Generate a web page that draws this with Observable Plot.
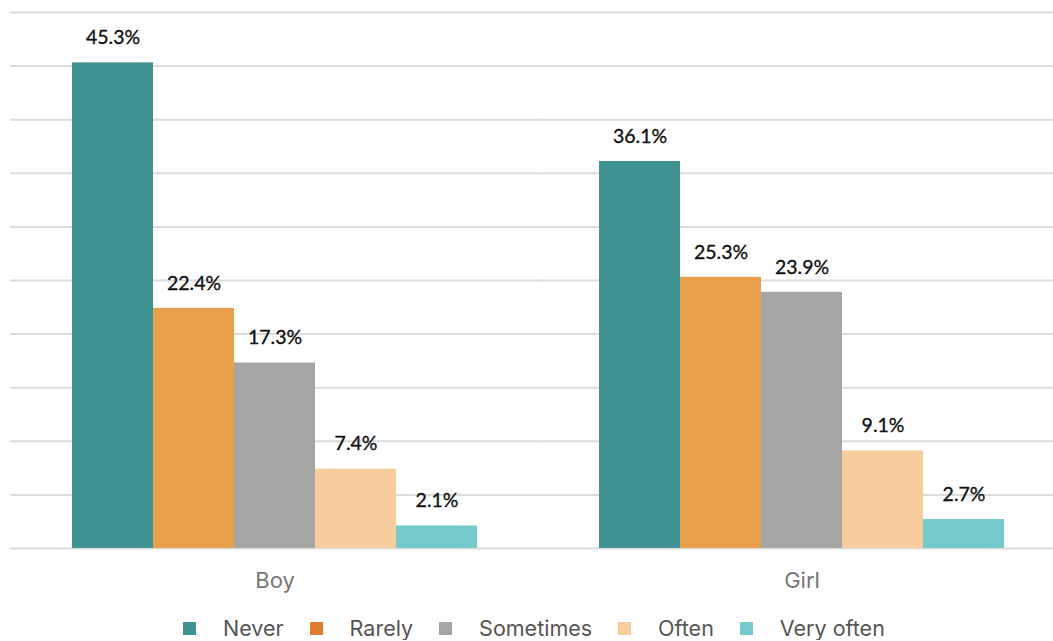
<!DOCTYPE html>
<html>
<head>
<meta charset="utf-8">
<script src="https://cdn.jsdelivr.net/npm/d3@7"></script>
<script src="https://cdn.jsdelivr.net/npm/@observablehq/plot@0.6"></script>
<style>
  body { margin: 0; background: #fff; }
  #legend { display: flex; justify-content: flex-start; align-items: center; margin-top: 16px; padding-left: 183px; height: 24px; font-family: Inter, "Open Sans", sans-serif; font-size: 21.5px; color: #555; }
  #legend .item { display: flex; align-items: center; margin-right: 26px; }
  #legend .sw { width: 13px; height: 13px; margin-right: 27px; }
</style>
</head>
<body>
<div id="chart"></div>
<div id="legend"></div>
<script>
const genders = ["Boy", "Girl"];
const frequencies = ["Never", "Rarely", "Sometimes", "Often", "Very often"];
const boyValues = [45.3, 22.4, 17.3, 7.4, 2.1];
const girlValues = [36.1, 25.3, 23.9, 9.1, 2.7];
const barColors = ["#409393", "#E9A04D", "#A5A5A5", "#F8CD9D", "#75CBCB"];
const legendColors = ["#409393", "#E07B30", "#A5A5A5", "#F8CD9D", "#75CBCB"];
const gridTicks = [0, 5, 10, 15, 20, 25, 30, 35, 40, 45, 50];

const data = [];
genders.forEach((g, gi) => {
  const vals = gi === 0 ? boyValues : girlValues;
  frequencies.forEach((f, i) => data.push({gender: g, freq: f, value: vals[i]}));
});

const chart = Plot.plot({
  width: 1053,
  height: 600,
  marginLeft: 10,
  marginRight: 0,
  marginTop: 12,
  marginBottom: 52,
  style: {background: "#fff", overflow: "hidden"},
  fx: {domain: genders, paddingInner: 0.228, paddingOuter: 0.1034, align: 0.56, label: null},
  x: {domain: frequencies, padding: 0, axis: null},
  y: {domain: [0, 50], axis: null},
  color: {domain: frequencies, range: barColors},
  marks: [
    Plot.ruleY(gridTicks, {facet: null, stroke: "#dcdcdc", strokeWidth: 2, insetLeft: -61, insetRight: -61}),
    Plot.barY(data, {fx: "gender", x: "freq", y: "value", fill: "freq"}),
    Plot.text(data, {fx: "gender", x: "freq", y: "value", text: d => d.value.toFixed(1) + "%", dy: -25, fontSize: 19.5, fill: "#111", stroke: "#111", strokeWidth: 0.35, fontFamily: "Lato, sans-serif"}),
    Plot.axisFx({anchor: "bottom", tickSize: 0, tickPadding: 24, fontSize: 22, fill: "#777", label: null, fontFamily: "Inter, 'Open Sans', sans-serif"})
  ]
});
document.getElementById("chart").append(chart);

const legend = document.getElementById("legend");
frequencies.forEach((f, i) => {
  const item = document.createElement("div");
  item.className = "item";
  const sw = document.createElement("span");
  sw.className = "sw";
  sw.style.background = legendColors[i];
  const t = document.createElement("span");
  t.textContent = f;
  item.append(sw, t);
  legend.append(item);
});
</script>
</body>
</html>
